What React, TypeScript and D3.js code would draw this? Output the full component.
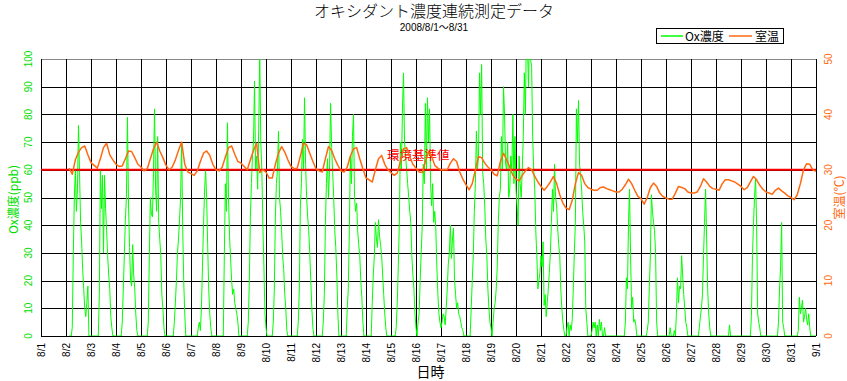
import React from "react";
import * as d3 from "d3";

// ---- data ----
const dayLabels = ["8/1","8/2","8/3","8/4","8/5","8/6","8/7","8/8","8/9","8/10","8/11","8/12","8/13","8/14","8/15","8/16","8/17","8/18","8/19","8/20","8/21","8/22","8/23","8/24","8/25","8/26","8/27","8/28","8/29","8/30","8/31","9/1"];
const oxTicks = [0,10,20,30,40,50,60,70,80,90,100];
const tempTicks = [0,10,20,30,40,50];
const standardValue = 60;

// hourly Ox (ppb) from 8/2 00:00 to 9/1 00:00
const oxHourly: (number | null)[] = [
  null,null,null,0,0,0,3,29,50,60,45,53,76,59,41,34,24,17,10,7,12,18,0,0, // 8/2
  0,0,0,0,0,0,0,0,15,60,46,58,30,58,46,38,29,22,17,7,3,0,0,0, // 8/3
  0,0,0,0,0,0,5,17,29,42,50,79,48,32,20,18,33,22,17,8,2,0,0,0, // 8/4
  0,0,0,0,0,0,0,5,29,50,44,43,60,82,53,45,72,41,35,29,15,10,3,0, // 8/5
  0,0,0,0,0,0,0,0,5,12,20,30,35,42,50,70,40,20,8,0,0,0,0,0, // 8/6
  0,0,0,0,0,0,0,3,5,2,10,25,40,52,60,50,33,17,8,3,0,0,0,0, // 8/7
  0,0,0,0,0,0,0,0,29,55,45,77,50,36,28,20,15,17,12,10,8,5,0,0, // 8/8
  0,0,0,0,0,0,0,5,20,43,55,65,70,92,60,65,53,75,102,70,60,40,25,8, // 8/9
  3,0,0,0,0,0,0,5,17,43,55,60,74,50,45,38,29,24,15,10,2,0,0,0, // 8/10
  0,0,0,0,0,0,0,5,17,47,55,71,60,86,62,50,43,38,30,20,10,3,0,0, // 8/11
  0,0,0,0,0,0,0,5,15,40,55,64,50,60,84,68,59,50,38,32,22,8,0,0, // 8/12
  0,0,0,0,0,0,10,17,38,65,55,72,80,50,45,48,38,33,29,20,14,5,0,0, // 8/13
  0,0,0,0,0,0,12,22,29,41,35,32,42,36,33,29,22,15,8,3,0,0,0,0, // 8/14
  0,0,0,0,0,3,12,25,41,70,60,82,95,70,65,60,55,50,45,41,29,22,17,8, // 8/15
  3,0,5,8,20,30,40,62,55,84,60,86,70,82,55,47,55,41,45,39,25,15,8,5, // 8/16
  3,5,8,7,4,10,17,26,30,40,28,35,39,20,15,10,12,8,7,5,3,2,0,0, // 8/17
  0,0,0,0,0,10,20,29,45,55,74,60,65,95,80,98,59,55,47,35,29,17,10,5, // 8/18
  3,0,5,10,12,17,25,41,50,53,72,60,90,80,62,60,70,50,53,65,60,80,55,72, // 8/19
  53,47,40,65,55,50,60,72,95,80,110,105,90,112,100,97,72,60,53,38,29,17,20,23, // 8/20
  29,25,34,11,15,7,12,17,23,30,41,53,45,62,50,47,39,33,29,17,10,5,2,0, // 8/21
  0,3,5,0,4,2,6,17,30,41,82,70,85,62,58,53,45,40,34,10,5,0,0,0, // 8/22
  0,2,5,3,5,0,4,0,6,2,5,0,0,3,0,0,0,0,0,0,0,0,0,0, // 8/23
  0,0,0,0,0,0,0,0,0,5,21,17,41,53,29,10,14,5,6,4,0,0,0,0, // 8/24
  0,0,0,0,0,0,2,5,18,29,51,45,41,38,30,5,0,0,0,0,0,0,0,0, // 8/25
  0,0,0,0,3,0,0,0,2,0,8,21,12,18,17,29,22,15,10,5,3,0,0,0, // 8/26
  0,0,0,0,0,0,0,0,3,7,10,15,29,41,53,35,17,8,3,0,0,0,0,0, // 8/27
  0,0,0,0,0,0,0,0,0,0,0,0,0,4,0,0,0,0,0,0,0,0,0,0, // 8/28
  0,0,0,0,0,0,0,0,0,0,7,29,41,50,57,40,8,5,3,0,0,0,0,0, // 8/29
  0,0,0,0,0,0,0,0,0,0,0,0,5,17,25,41,5,3,0,0,0,0,0,0, // 8/30
  0,0,0,0,0,0,0,2,14,8,10,13,5,7,10,6,4,8,3,0,0,0,0,0, // 8/31
  0, // 9/1
];

// room temperature (deg C) every 3 hours from 8/2 00:00 to 9/1 00:00
const temp3h: (number | null)[] = [
  null,30.3,29.2,31.8,33.2,34.0,34.3,32.7, // 8/2
  31.3,30.8,30.3,32.0,34.0,34.8,32.7,31.8, // 8/3
  31.0,30.6,30.7,32.0,33.4,33.3,32.2,31.0, // 8/4
  30.5,29.8,30.2,32.0,33.8,35.0,33.4,32.2, // 8/5
  30.8,30.0,30.5,31.8,33.5,35.0,31.0,29.6, // 8/6
  29.3,29.0,29.8,31.5,33.0,33.4,32.6,31.0, // 8/7
  30.0,29.8,30.5,32.3,34.0,34.3,32.8,31.5, // 8/8
  31.2,30.6,30.0,31.8,33.5,34.8,29.5,30.0, // 8/9
  29.6,28.5,28.5,31.0,33.0,34.2,33.2,31.8, // 8/10
  30.6,30.2,30.3,32.5,34.8,34.5,33.0,31.5, // 8/11
  30.2,29.8,29.6,32.0,34.2,33.5,32.0,30.8, // 8/12
  29.8,29.6,30.5,32.5,33.8,34.0,32.0,30.2, // 8/13
  28.5,28.2,27.8,30.0,32.0,32.6,31.0,30.0, // 8/14
  29.5,29.0,29.4,31.5,33.8,34.0,32.3,31.0, // 8/15
  30.3,29.6,29.5,31.5,33.2,32.5,30.8,30.3, // 8/16
  30.0,30.0,30.0,31.2,32.0,31.5,29.6,28.3, // 8/17
  27.3,26.4,27.5,30.0,32.4,32.2,31.2,30.5, // 8/18
  30.0,29.2,28.9,31.5,33.0,31.8,30.5,29.0, // 8/19
  28.3,28.0,29.0,29.8,30.4,30.0,28.8,27.8, // 8/20
  27.0,26.3,27.0,27.8,28.8,27.5,25.5,24.0, // 8/21
  23.1,22.8,24.5,27.5,29.5,29.0,27.5,26.8, // 8/22
  26.5,26.3,26.3,26.8,26.9,26.6,26.4,26.2, // 8/23
  26.0,26.0,26.5,27.3,28.3,27.5,26.3,25.2, // 8/24
  24.8,23.8,25.0,26.8,27.6,27.0,25.8,25.2, // 8/25
  24.9,24.7,24.7,25.8,27.0,26.8,26.6,26.0, // 8/26
  25.8,25.8,26.0,27.0,28.4,27.8,27.0,26.6, // 8/27
  26.5,26.3,27.5,28.2,28.2,28.0,27.8,27.4, // 8/28
  27.0,26.4,26.8,27.8,28.8,28.2,27.2,26.5, // 8/29
  26.0,25.8,25.6,26.3,26.7,26.2,25.8,25.3, // 8/30
  25.0,24.6,25.5,27.5,30.0,31.1,31.0,30.0, // 8/31
  29.7, // 9/1
];

const FONT = "'Liberation Sans', Arial, 'Noto Sans CJK JP', sans-serif";
const JFONT = "'Noto Sans CJK JP', 'Liberation Sans', sans-serif";
const GREEN = "#00ff00";
const ORANGE = "#ff6a10";

export default function App() {
  const W = 847, H = 381;
  const left = 41, right = 816, top = 59, bottom = 336;
  const x = d3.scaleLinear().domain([0, 31 * 24]).range([left, right]);
  const yOx = d3.scaleLinear().domain([0, 100]).range([bottom, top]);
  const yT = d3.scaleLinear().domain([0, 50]).range([bottom, top]);

  const oxLine = d3.line<number | null>()
    .defined((d) => d !== null)
    .x((_, i) => x(24 + i))
    .y((d) => yOx(d as number));
  const tLine = d3.line<number | null>()
    .defined((d) => d !== null)
    .x((_, i) => x(24 + i * 3))
    .y((d) => yT(d as number));

  const cx = (left + right) / 2;
  const cyMid = (top + bottom) / 2;

  return (
    <svg width={W} height={H} style={{ position: "absolute", left: 0, top: 0, background: "#fff" }}>
      <defs>
        <clipPath id="plot">
          <rect x={left} y={top} width={right - left} height={bottom - top} />
        </clipPath>
      </defs>
      <rect width={W} height={H} fill="#fff" />
      {/* title */}
      <text x={434} y={17} textAnchor="middle" fontFamily={JFONT} fontSize={16} fill="#000" fontWeight={300}>
        オキシダント濃度連続測定データ
      </text>
      <text x={434} y={31} textAnchor="middle" fontFamily={FONT} fontSize={10} fill="#000">
        2008/8/1～8/31
      </text>
      {/* legend */}
      <rect x={656.5} y={28.5} width={127} height={15} fill="#fff" stroke="#000" />
      <line x1={661} x2={683} y1={36} y2={36} stroke={GREEN} strokeWidth={1.5} />
      <text x={685} y={40.5} fontFamily={JFONT} fontSize={12} fill="#000">Ox濃度</text>
      <line x1={729} x2={752} y1={36} y2={36} stroke={ORANGE} strokeWidth={1.5} />
      <text x={755} y={40.5} fontFamily={JFONT} fontSize={12} fill="#000">室温</text>

      {/* grid */}
      {oxTicks.map((t) => (
        <line key={"h" + t} x1={left} x2={right} y1={Math.round(yOx(t)) + 0.5} y2={Math.round(yOx(t)) + 0.5}
          stroke={t === 100 ? "#888" : "#000"} strokeWidth={1} />
      ))}
      {dayLabels.map((d, i) => (
        <line key={"v" + d} x1={Math.round(x(i * 24)) + 0.5} x2={Math.round(x(i * 24)) + 0.5} y1={top} y2={bottom}
          stroke="#000" strokeWidth={1} />
      ))}

      {/* ox series */}
      <g clipPath="url(#plot)">
        <path d={oxLine(oxHourly) || ""} fill="none" stroke={GREEN} strokeWidth={1} />
      </g>
      {/* environmental standard */}
      <line x1={left} x2={right} y1={yOx(standardValue)} y2={yOx(standardValue)} stroke="#ff0000" strokeWidth={2} />
      <text x={387} y={160} fontFamily={JFONT} fontSize={12.5} fill="#ff0000">環境基準値</text>
      {/* temperature */}
      <path d={tLine(temp3h) || ""} fill="none" stroke={ORANGE} strokeWidth={1.5} strokeLinejoin="round" />

      {/* left axis labels */}
      {oxTicks.map((t) => (
        <text key={"lt" + t} transform={`translate(28,${yOx(t)}) rotate(-90)`} textAnchor="middle"
          dominantBaseline="central" fontFamily={FONT} fontSize={10} fill="#00dd00">{t}</text>
      ))}
      <text transform={`translate(12,${cyMid + 2}) rotate(-90)`} textAnchor="middle" dominantBaseline="central"
        fontFamily={JFONT} fontSize={12} fill="#00dd00">Ox濃度(ppb)</text>
      {/* right axis labels */}
      {tempTicks.map((t) => (
        <text key={"rt" + t} transform={`translate(828,${yT(t)}) rotate(-90)`} textAnchor="middle"
          dominantBaseline="central" fontFamily={FONT} fontSize={10} fill={ORANGE}>{t}</text>
      ))}
      <text transform={`translate(838,${cyMid}) rotate(-90)`} textAnchor="middle" dominantBaseline="central"
        fontFamily={JFONT} fontSize={12} fill={ORANGE}>室温(℃)</text>
      {/* x axis labels */}
      {dayLabels.map((d, i) => (
        <text key={"xl" + d} transform={`translate(${x(i * 24) + 0.5},343) rotate(-90)`} textAnchor="end"
          dominantBaseline="central" fontFamily={FONT} fontSize={10} fill="#000">{d}</text>
      ))}
      <text x={cx + 2} y={377} textAnchor="middle" fontFamily={JFONT} fontSize={14} fill="#000">日時</text>
    </svg>
  );
}
